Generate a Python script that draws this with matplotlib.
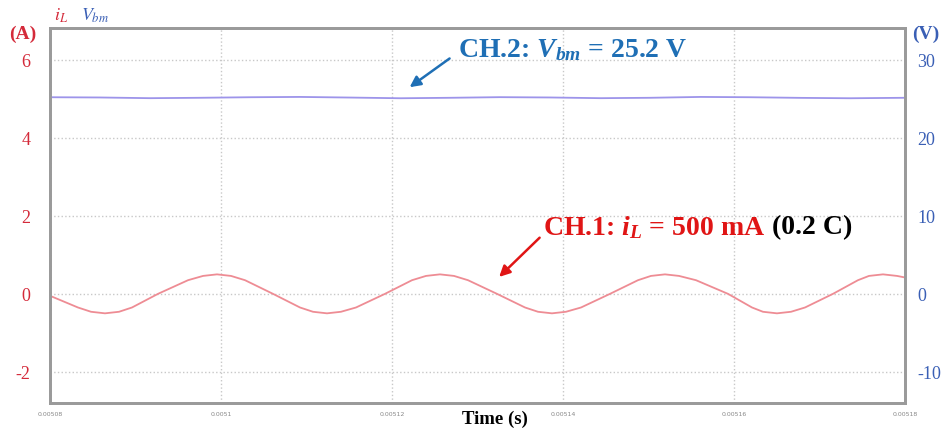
import numpy as np
import matplotlib.pyplot as plt

# time in microseconds
t_i = [5080.00, 5083.27, 5084.80, 5086.43, 5088.07, 5089.59, 5092.63, 5096.14,
       5097.90, 5099.53, 5101.17, 5102.81, 5106.08, 5109.24, 5110.76, 5112.40,
       5114.03, 5115.79, 5119.18, 5122.34, 5123.98, 5125.61, 5127.25, 5128.89,
       5132.28, 5135.56, 5137.08, 5138.71, 5140.35, 5142.11, 5145.50, 5148.77,
       5150.29, 5151.93, 5153.57, 5155.56, 5159.30, 5162.11, 5163.39, 5165.03,
       5166.67, 5168.31, 5171.58, 5174.50, 5175.79, 5177.43, 5179.07, 5180.00]
i_L = [-0.05, -0.35, -0.46, -0.50, -0.46, -0.35, 0.00, 0.35, 0.46, 0.50, 0.46, 0.35,
       0.00, -0.35, -0.46, -0.50, -0.46, -0.35, 0.00, 0.35, 0.46, 0.50, 0.46, 0.35,
       0.00, -0.35, -0.46, -0.50, -0.46, -0.35, 0.00, 0.35, 0.46, 0.50, 0.46, 0.35,
       0.00, -0.35, -0.46, -0.50, -0.46, -0.35, 0.00, 0.35, 0.46, 0.50, 0.46, 0.42]

t_v = [5080.0, 5085.8, 5091.7, 5097.5, 5103.4, 5109.2, 5115.1, 5121.0, 5126.8,
       5132.6, 5138.5, 5144.4, 5150.2, 5156.1, 5161.9, 5167.8, 5173.6, 5180.0]
v_bm = [25.22, 25.19, 25.10, 25.15, 25.22, 25.26, 25.18, 25.09, 25.15,
        25.23, 25.19, 25.10, 25.15, 25.26, 25.22, 25.14, 25.09, 25.15]

x_ticks = [0.00508, 0.00510, 0.00512, 0.00514, 0.00516, 0.00518]
x_labels = ['0.00508', '0.0051', '0.00512', '0.00514', '0.00516', '0.00518']
left_ticks = [-2, 0, 2, 4, 6]
right_ticks = [-10, 0, 10, 20, 30]

red = '#d42a3a'
blue = '#3a5fb5'
serif = 'Liberation Serif'

plt.rcParams['axes.unicode_minus'] = False
plt.rcParams['mathtext.fontset'] = 'custom'
plt.rcParams['mathtext.rm'] = 'Liberation Serif:bold'
plt.rcParams['mathtext.it'] = 'Liberation Serif:italic:bold'
plt.rcParams['mathtext.bf'] = 'Liberation Serif:bold'

fig = plt.figure(figsize=(9.49, 4.35), dpi=100)
ax = fig.add_axes([0.0527, 0.0713, 0.9009, 0.862])
ax2 = ax.twinx()

ax.plot(np.array(t_i) * 1e-6, i_L, color='#ee8c94', lw=1.3)
ax2.plot(np.array(t_v) * 1e-6, v_bm, color='#9d94ea', lw=1.3)

ax.set_xlim(0.00508, 0.00518)
ax.set_ylim(-2.8, 6.82)
ax2.set_ylim(-14, 34.1)

ax.set_xticks(x_ticks)
ax.set_xticklabels(x_labels)
ax.set_yticks(left_ticks)
ax2.set_yticks(right_ticks)

ax.grid(True, ls=':', color='#c8c8c8', lw=1)
ax.tick_params(axis='x', length=0, labelsize=4.5, labelcolor='#888888', pad=6)
ax.tick_params(axis='y', length=0, labelsize=13, labelcolor=red, pad=14)
ax2.tick_params(axis='y', length=0, labelsize=13, labelcolor=blue, pad=9)
for lab in ax.get_yticklabels() + ax2.get_yticklabels():
    lab.set_family(serif)

for a in (ax, ax2):
    for s in a.spines.values():
        s.set_color('#9a9a9a')
        s.set_linewidth(2)

fig.text(0.5216, 0.035, 'Time (s)', ha='center', va='center', family=serif,
         fontweight='bold', fontsize=13.5)
fig.text(0.024, 0.921, '(A)', ha='center', va='center', family=serif,
         fontweight='bold', fontsize=14, color=red)
fig.text(0.976, 0.921, '(V)', ha='center', va='center', family=serif,
         fontweight='bold', fontsize=14, color=blue)
fig.text(0.057, 0.963, r'$i_L$', ha='left', va='center', fontsize=13,
         color=red, math_fontfamily='stix')
fig.text(0.085, 0.963, r'$V_{bm}$', ha='left', va='center', fontsize=13,
         color=blue, math_fontfamily='stix')

ax.annotate('', xy=(0.0051218, 5.26), xytext=(0.0051270, 6.08),
            arrowprops=dict(arrowstyle='-|>', color='#1f6fb5', lw=1.8,
                            mutation_scale=16))
ax.text(0.0051277, 6.28, r'CH.2: $V_{bm}$ = 25.2 V', ha='left', va='center',
        family=serif, fontweight='bold', fontsize=20, color='#1f6fb5')
ax.annotate('', xy=(0.0051323, 0.385), xytext=(0.0051375, 1.49),
            arrowprops=dict(arrowstyle='-|>', color='#e01515', lw=1.8,
                            mutation_scale=16))
ax.text(0.0051377, 1.72, r'CH.1: $i_L$ = 500 mA', ha='left', va='center',
        family=serif, fontweight='bold', fontsize=20, color='#e01515')
ax.text(0.0051645, 1.72, '(0.2 C)', ha='left', va='center', family=serif,
        fontweight='bold', fontsize=20, color='black')

fig.savefig('out.png', dpi=100)
